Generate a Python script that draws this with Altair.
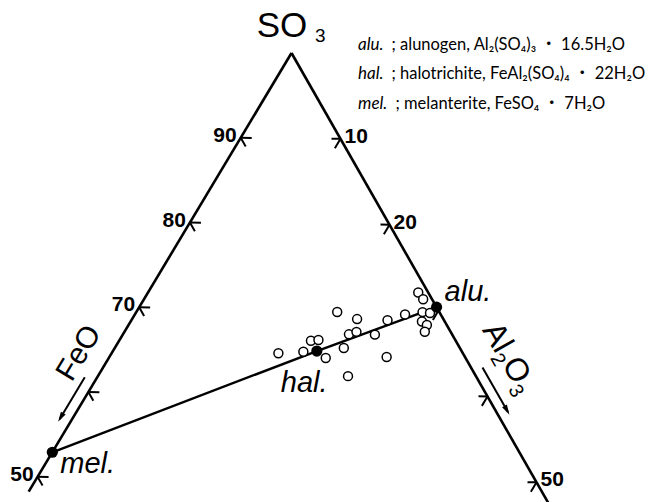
import math
import numpy as np
import pandas as pd
import altair as alt

# ---------------------------------------------------------------------------
# Analysed sulfate efflorescences, wt% (SO3, Al2O3, FeO)
# ---------------------------------------------------------------------------
sample_so3 = [64.8, 65.0, 66.3, 66.4, 64.3, 69.7, 65.5, 62.2, 67.1, 68.9, 67.4,
              67.1, 68.8, 64.5, 69.5, 72.1, 71.3, 69.8, 69.7, 68.7, 68.3, 67.5]
sample_al2o3 = [16.6, 19.0, 19.1, 19.8, 21.6, 20.0, 22.8, 24.9, 22.5, 22.4, 23.1,
                25.1, 25.5, 27.6, 26.9, 26.9, 27.8, 28.5, 29.3, 29.0, 29.7, 29.9]
sample_feo = [18.6, 16.0, 14.6, 13.8, 14.1, 10.3, 11.7, 12.9, 10.4, 8.7, 9.5,
              7.8, 5.7, 7.9, 3.6, 1.0, 0.9, 1.7, 1.0, 2.3, 2.0, 2.6]

# End-member sulfates
mineral_names = ["alu.", "hal.", "mel."]
mineral_so3 = [70.4, 65.1, 52.9]
mineral_al2o3 = [29.6, 20.3, 0.0]
mineral_feo = [0.0, 14.6, 47.1]

# Edge ticks
so3_ticks = [90, 80, 70, 60, 50]
so3_tick_labels = ["90", "80", "70", "", "50"]
al2o3_ticks = [10, 20, 30, 40, 50]
al2o3_tick_labels = ["10", "20", "", "", "50"]

# Key to the abbreviations
legend_abbr = ["alu.", "hal.", "mel."]
legend_desc = ["; alunogen, Al\u2082(SO\u2084)\u2083 \u30fb 16.5H\u2082O",
               "; halotrichite, FeAl\u2082(SO\u2084)\u2084 \u30fb 22H\u2082O",
               "; melanterite, FeSO\u2084 \u30fb 7H\u2082O"]

# ---------------------------------------------------------------------------
# Ternary projection (SO3 corner at the origin, y grows downward)
# ---------------------------------------------------------------------------
W, H = 649, 502
UNIT = 988.0                      # pixels per full edge length
APEX_X, APEX_Y = 291.5, 53.0      # SO3 corner inside the frame
X_DOMAIN = [-APEX_X / UNIT, (W - APEX_X) / UNIT]
Y_DOMAIN = [-APEX_Y / UNIT, (H - APEX_Y) / UNIT]

FEO_CORNER = np.array([-0.514, 0.858])
AL_CORNER = np.array([0.496, 0.869])


def project(so3, al2o3, feo):
    so3, al2o3, feo = (np.asarray(v, dtype=float) for v in (so3, al2o3, feo))
    total = so3 + al2o3 + feo
    a = al2o3 / total
    f = feo / total
    return (f * FEO_CORNER[0] + a * AL_CORNER[0],
            f * FEO_CORNER[1] + a * AL_CORNER[1])


def unit(v):
    v = np.asarray(v, dtype=float)
    return v / np.hypot(*v)


u_left = unit(FEO_CORNER)
u_right = unit(AL_CORNER)
u_base = unit(AL_CORNER - FEO_CORNER)
n_left = np.array([-u_left[1], u_left[0]])      # outward, left edge
n_right = np.array([u_right[1], -u_right[0]])   # outward, right edge
PX = 1.0 / UNIT

XS = alt.Scale(domain=X_DOMAIN, nice=False, zero=False)
YS = alt.Scale(domain=Y_DOMAIN, nice=False, zero=False, reverse=True)


def X(f):
    return alt.X(f, type="quantitative", scale=XS, axis=None)


def Y(f):
    return alt.Y(f, type="quantitative", scale=YS, axis=None)


def seg_rows(pairs):
    return pd.DataFrame([{"x": p[0], "y": p[1], "x2": q[0], "y2": q[1]} for p, q in pairs])


def rules(df, width):
    return alt.Chart(df).mark_rule(color="black", strokeWidth=width, strokeCap="butt").encode(
        x=X("x"), y=Y("y"), x2=alt.X2("x2"), y2=alt.Y2("y2"))


# Triangle edges
apex = np.array(project(100, 0, 0))
left_end = np.array(project(48.25, 0, 51.75))
right_end = np.array(project(47, 53, 0))
edges = rules(seg_rows([(apex, left_end), (apex, right_end)]), 2.6)

# Ticks: one stroke parallel to the base, one parallel to the opposite edge
tick_pairs = []
for v in so3_ticks:
    p = np.array(project(v, 0, 100 - v))
    tick_pairs.append((p, p + u_base * 11 * PX))
    tick_pairs.append((p, p + u_right * 10 * PX))
for v in al2o3_ticks:
    p = np.array(project(100 - v, v, 0))
    tick_pairs.append((p, p - u_base * 9 * PX))
    tick_pairs.append((p, p + u_left * 11 * PX))
ticks = rules(seg_rows(tick_pairs), 2.0)

left_lab = pd.DataFrame({"label": so3_tick_labels})
left_lab["x"], left_lab["y"] = project(so3_ticks, [0] * 5, [100 - v for v in so3_ticks])
right_lab = pd.DataFrame({"label": al2o3_tick_labels})
right_lab["x"], right_lab["y"] = project([100 - v for v in al2o3_ticks], al2o3_ticks, [0] * 5)

tick_font = dict(font="Liberation Sans", fontSize=21, fontWeight="bold", color="black")
left_text = alt.Chart(left_lab).mark_text(align="right", baseline="middle", dx=-4, dy=-2, **tick_font).encode(
    x=X("x"), y=Y("y"), text="label:N")
right_text = alt.Chart(right_lab).mark_text(align="left", baseline="middle", dx=4, dy=-2, **tick_font).encode(
    x=X("x"), y=Y("y"), text="label:N")

# Tie line mel. - hal. - alu.
minerals = pd.DataFrame({"name": mineral_names})
minerals["x"], minerals["y"] = project(mineral_so3, mineral_al2o3, mineral_feo)
minerals["order"] = [2, 1, 0]
tie = alt.Chart(minerals).mark_line(color="black", strokeWidth=2.4).encode(
    x=X("x"), y=Y("y"), order="order:Q")

samples = pd.DataFrame({"so3": sample_so3})
samples["x"], samples["y"] = project(sample_so3, sample_al2o3, sample_feo)
sample_pts = alt.Chart(samples).mark_circle(
    size=80, fill="white", stroke="black", strokeWidth=1.5, opacity=1).encode(x=X("x"), y=Y("y"))

mineral_pts = alt.Chart(minerals).mark_circle(size=125, color="black", opacity=1).encode(
    x=X("x"), y=Y("y"))

label_font = dict(font="Liberation Sans", fontSize=29, fontStyle="italic", color="black",
                  align="left", baseline="alphabetic")
mineral_offsets = {"alu.": (8, -6), "hal.": (-36, 41), "mel.": (8, 21)}
mineral_labels = [
    alt.Chart(minerals[minerals["name"] == n]).mark_text(dx=dx, dy=dy, **label_font).encode(
        x=X("x"), y=Y("y"), text="name:N")
    for n, (dx, dy) in mineral_offsets.items()
]


# Direction arrows beside the two edges
def arrow(p, q):
    d = unit(q - p)
    line = rules(seg_rows([(p, q - d * 3 * PX)]), 2.0)
    head = pd.DataFrame({"x": [q[0]], "y": [q[1]],
                         "angle": [math.degrees(math.atan2(-d[0], d[1])) % 360]})
    tip = alt.Chart(head).mark_point(shape="M0,0 L-0.55,-2 L0.55,-2 Z", size=100, filled=True,
                                     color="black", opacity=1).encode(
        x=X("x"), y=Y("y"), angle=alt.Angle("angle:Q", scale=None))
    return [line, tip]


feo_arrow = arrow(np.array(project(61.1, 0, 38.9)) + n_left * 10.7 * PX,
                  np.array(project(55.85, 0, 44.15)) + n_left * 10.7 * PX)
al_arrow = arrow(np.array(project(62.8, 37.2, 0)) + n_right * 10 * PX,
                 np.array(project(57.3, 42.7, 0)) + n_right * 10 * PX)

# Component names
left_angle = 360 - math.degrees(math.atan2(u_left[1], -u_left[0]))
right_angle = math.degrees(math.atan2(u_right[1], u_right[0]))


def point_df(p):
    return pd.DataFrame({"x": [p[0]], "y": [p[1]]})


def name_piece(p, text, size, angle, dx, dy, align="left", font="Liberation Sans"):
    return alt.Chart(point_df(p)).mark_text(
        text=text, font=font, fontSize=size, angle=angle, dx=dx, dy=dy, align=align,
        baseline="alphabetic", color="black").encode(x=X("x"), y=Y("y"))


feo_anchor = np.array(project(62.9, 0, 37.1))
feo_name = [name_piece(feo_anchor, "FeO", 30, round(left_angle, 2), 0, -19, align="center")]

al_anchor = np.array(project(62.3, 37.7, 0))
ra = round(right_angle, 2)
al_name = [
    name_piece(al_anchor, "Al", 32, ra, -37.8, -28),
    name_piece(al_anchor, "2", 20, ra, -9.4, -21),
    name_piece(al_anchor, "O", 32, ra, 1.7, -28),
    name_piece(al_anchor, "3", 20, ra, 26.6, -21),
]

so3_name = [
    name_piece(apex, "SO", 35, 0, 15.8, -16.3, align="right"),
    name_piece(apex, "3", 19, 0, 23.5, -11.3, align="left"),
]

# Key in the upper right corner
legend_font = "Lato, Noto Sans, Noto Sans CJK JP"
legend_base = [49.5, 79.0, 108.5]
legend_desc_x = [391.5, 391.5, 395.5]
key = []
one = pd.DataFrame({"k": [0]})
for abbr, desc, yb, xd in zip(legend_abbr, legend_desc, legend_base, legend_desc_x):
    key.append(alt.Chart(one).mark_text(text=abbr, font=legend_font, fontSize=17, fontStyle="italic",
                                        align="left", baseline="alphabetic", color="black").encode(
        x=alt.value(358), y=alt.value(yb)))
    key.append(alt.Chart(one).mark_text(text=desc, font=legend_font, fontSize=16.5,
                                        align="left", baseline="alphabetic", color="black").encode(
        x=alt.value(xd), y=alt.value(yb)))

chart = alt.layer(
    edges, ticks, tie, *feo_arrow, *al_arrow, sample_pts, mineral_pts,
    left_text, right_text, *mineral_labels, *feo_name, *al_name, *so3_name, *key
).properties(
    width=W, height=H, padding=0, autosize="none", background="white"
).configure_view(stroke=None)

chart.save("out.html", embed_options={"renderer": "svg", "actions": False})
